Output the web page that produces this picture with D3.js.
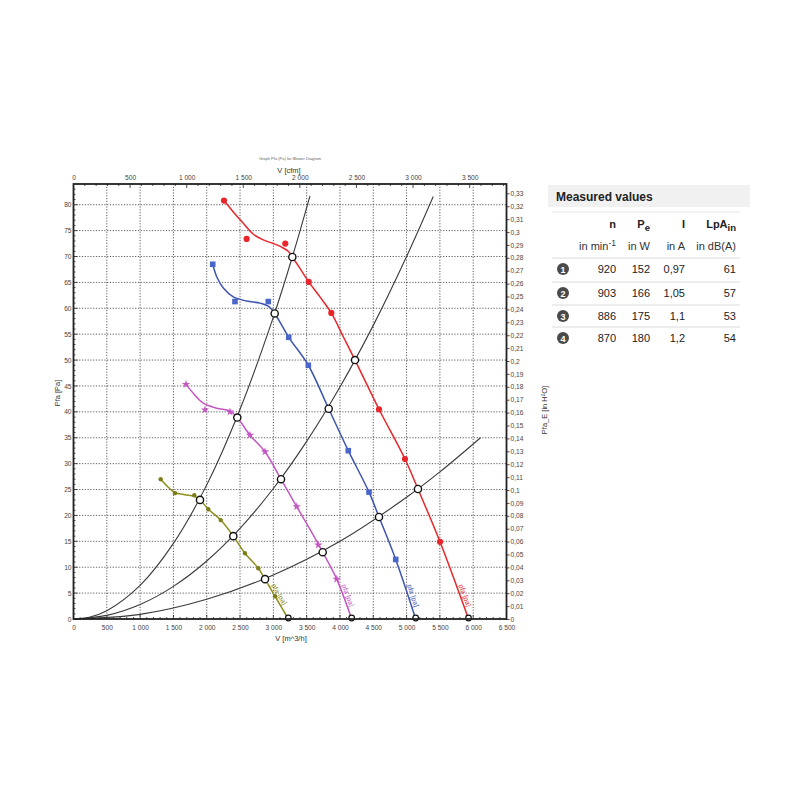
<!DOCTYPE html>
<html><head><meta charset="utf-8">
<script src="https://cdn.jsdelivr.net/npm/d3@7"></script>
<style>body{margin:0;background:#fff} svg{display:block} text{font-family:"Liberation Sans",Arial,sans-serif}</style>
</head><body><svg id="c" width="800" height="800"></svg>
<script>
// ---- data (V in m³/h, p in Pa) ----
const xTicks = [0,500,1000,1500,2000,2500,3000,3500,4000,4500,5000,5500,6000,6500];
const yTicks = [0,5,10,15,20,25,30,35,40,45,50,55,60,65,70,75,80];
const cfmTicks = [0,500,1000,1500,2000,2500,3000,3500];

const redCurve = [[2259,80.8],[2399,78.6],[2549,76.4],[2699,74.3],[2849,73.2],[2999,72.5],[3125,71.8],[3224,71.0],[3285,69.9],[3400,67.7],[3531,65.1],[3700,62.2],[3870,59.1],[4050,54.5],[4226,50.0],[4586,40.5],[4976,30.9],[5171,25.1],[5502,14.9],[5930,0]];
const redMarkers = [[2259,80.8],[2599,73.4],[3179,72.5],[3531,65.1],[3870,59.1],[4586,40.5],[4976,30.9],[5502,14.9]];
const redOps = [[3285,69.9],[4226,50.0],[5171,25.1]];

const blueCurve = [[2090,68.5],[2150,66.1],[2249,63.9],[2399,62.2],[2600,61.4],[2800,61.0],[2924,60.4],[3020,59.0],[3231,54.4],[3525,49.0],[3831,40.6],[4125,32.5],[4436,24.5],[4586,19.7],[4837,11.5],[5137,0]];
const blueMarkers = [[2090,68.5],[2424,61.3],[2924,61.3],[3231,54.4],[3525,49.0],[4125,32.5],[4436,24.5],[4837,11.5]];
const blueOps = [[3020,59.0],[3831,40.6],[4586,19.7]];

const magentaCurve = [[1689,45.3],[1798,43.6],[1948,41.7],[2150,40.7],[2349,40.2],[2459,38.9],[2649,35.5],[2875,32.3],[3115,27.0],[3351,21.7],[3600,16.2],[3741,12.9],[3951,7.7],[4176,0]];
const magentaMarkers = [[1689,45.3],[1974,40.4],[2349,40.0],[2649,35.5],[2875,32.3],[3351,21.7],[3675,14.3],[3951,7.7]];
const magentaOps = [[2459,38.9],[3115,27.0],[3741,12.9]];

const oliveCurve = [[1309,27.0],[1419,25.5],[1524,24.4],[1674,24.0],[1813,23.7],[1899,23.0],[2024,21.2],[2210,19.1],[2399,16.0],[2574,12.7],[2774,9.8],[2875,7.7],[3025,4.4],[3225,0]];
const oliveMarkers = [[1309,27.0],[1524,24.3],[1813,23.9],[2024,21.2],[2210,19.1],[2574,12.7],[2774,9.8],[3025,4.4]];
const oliveOps = [[1899,23.0],[2399,16.0],[2875,7.7]];

const system1 = [[0,0],[250,0.4],[500,1.6],[1000,6.5],[1500,14.6],[2000,25.9],[2500,40.5],[3000,58.3],[3285,69.9],[3550,81.7]];
const system2 = [[0,0],[500,0.7],[1000,2.8],[1500,6.3],[2000,11.2],[2500,17.5],[3000,25.2],[3500,34.3],[4000,44.8],[4500,56.7],[5000,70.0],[5400,81.6]];
const system3 = [[0,0],[1000,0.9],[2000,3.8],[3000,8.5],[4000,15.0],[5000,23.5],[5500,28.4],[6110,35.0]];

const tableN = ["920","903","886","870"];
const tablePe = ["152","166","175","180"];
const tableI = ["0,97","1,05","1,1","1,2"];
const tableLpA = ["61","57","53","54"];

// ---- scales ----
const svg = d3.select("#c");
const x = d3.scaleLinear().domain([0,6500]).range([73.5,506.5]);
const y = d3.scaleLinear().domain([0,84]).range([619,184]);
const xc = d3.scaleLinear().domain([0,6500/1.699]).range([73.5,506.5]);
const yr = d3.scaleLinear().domain([0,84/249.089]).range([619,184]);
const sp = v => d3.format(",")(v).replace(/,/g," ");
const comma = v => d3.format(".2~f")(v).replace(".",",");

// grid
const g = svg.append("g");
g.selectAll(".vg").data(xTicks.slice(1,-1)).join("line")
  .attr("x1",d=>x(d)).attr("x2",d=>x(d)).attr("y1",y(84)).attr("y2",y(0))
  .attr("stroke","#333").attr("stroke-width",0.8).attr("stroke-dasharray","1.2,1.6");
g.selectAll(".hg").data(yTicks.slice(1)).join("line")
  .attr("x1",x(0)).attr("x2",x(6500)).attr("y1",d=>y(d)).attr("y2",d=>y(d))
  .attr("stroke","#333").attr("stroke-width",0.8).attr("stroke-dasharray","1.2,1.6");

// minor ticks
const minorL = d3.range(0,84,1);
g.selectAll(".ml").data(minorL).join("line")
  .attr("x1",x(0)).attr("x2",d=>x(0)+(d%5===0?4:2)).attr("y1",d=>y(d)).attr("y2",d=>y(d))
  .attr("stroke","#222").attr("stroke-width",0.8);
const minorB = d3.range(0,6500,100);
g.selectAll(".mb").data(minorB).join("line")
  .attr("x1",d=>x(d)).attr("x2",d=>x(d)).attr("y1",y(0)).attr("y2",d=>y(0)-(d%500===0?4:2))
  .attr("stroke","#222").attr("stroke-width",0.8);
const minorT = d3.range(0,3826,100);
g.selectAll(".mt").data(minorT).join("line")
  .attr("x1",d=>xc(d)).attr("x2",d=>xc(d)).attr("y1",y(84)).attr("y2",d=>y(84)+(d%500===0?4:2))
  .attr("stroke","#222").attr("stroke-width",0.8);

const line = d3.line().x(d=>x(d[0])).y(d=>y(d[1])).curve(d3.curveCatmullRom.alpha(0.5));

// system curves
[system1,system2,system3].forEach(s=>{
  svg.append("path").attr("d",line(s)).attr("fill","none").attr("stroke","#3a3a3a").attr("stroke-width",1.1);
});

// fan curves
const series = [
  {c:redCurve,m:redMarkers,o:redOps,col:"#e8262b",mcol:"#e8262b",sym:"circle"},
  {c:blueCurve,m:blueMarkers,o:blueOps,col:"#3d55b0",mcol:"#4a66c8",sym:"square"},
  {c:magentaCurve,m:magentaMarkers,o:magentaOps,col:"#c457c2",mcol:"#c457c2",sym:"star"},
  {c:oliveCurve,m:oliveMarkers,o:oliveOps,col:"#8e8e1e",mcol:"#7d7d1a",sym:"dot"}
];
series.forEach(s=>{
  svg.append("path").attr("d",line(s.c)).attr("fill","none").attr("stroke",s.col).attr("stroke-width",1.5);
  const mk = svg.append("g");
  s.m.forEach(p=>{
    const px=x(p[0]), py=y(p[1]);
    if(s.sym==="circle") mk.append("circle").attr("cx",px).attr("cy",py).attr("r",3.1).attr("fill",s.mcol);
    else if(s.sym==="square") mk.append("rect").attr("x",px-2.8).attr("y",py-2.8).attr("width",5.6).attr("height",5.6).attr("fill",s.mcol);
    else if(s.sym==="star") mk.append("path").attr("transform",`translate(${px},${py})`).attr("d",d3.symbol(d3.symbolStar,22)()).attr("fill",s.mcol);
    else mk.append("circle").attr("cx",px).attr("cy",py).attr("r",2.2).attr("fill",s.mcol);
  });
  // curve end label
  const n=s.c.length, last=s.c[n-1], prev=s.c[n-2];
  const t = 6.5/prev[1];
  const lv = last[0]+(prev[0]-last[0])*t, lp = 6.5;
  const ang = Math.atan2(y(last[1])-y(prev[1]), x(last[0])-x(prev[0]))*180/Math.PI;
  svg.append("text").attr("transform",`translate(${x(lv)+2.5},${y(lp)}) rotate(${ang})`)
    .attr("font-size",7).attr("fill",s.col).text("pfa [pa]");
  // zero marker
  svg.append("circle").attr("cx",x(last[0])).attr("cy",y(0)-1).attr("r",2.8)
    .attr("fill","#fff").attr("stroke","#111").attr("stroke-width",1.2);
});
// operating points
series.forEach(s=>{
  s.o.forEach(p=>{
    svg.append("circle").attr("cx",x(p[0])).attr("cy",y(p[1])).attr("r",3.6)
      .attr("fill","#fff").attr("stroke","#111").attr("stroke-width",1.4);
  });
});

// frame
svg.append("rect").attr("x",x(0)).attr("y",y(84)).attr("width",x(6500)-x(0)).attr("height",y(0)-y(84))
  .attr("fill","none").attr("stroke","#222").attr("stroke-width",1.8);

// axes labels
const axStyle = sel => { sel.select(".domain").remove(); sel.selectAll("text").attr("font-size",6.6).attr("fill","#444").attr("font-family","'Liberation Sans',Arial,sans-serif"); };
svg.append("g").attr("transform",`translate(0,${y(0)})`)
  .call(d3.axisBottom(x).tickValues(xTicks).tickSize(0).tickPadding(6).tickFormat(sp)).call(axStyle);
svg.append("g").attr("transform",`translate(0,${y(84)})`)
  .call(d3.axisTop(xc).tickValues(cfmTicks).tickSize(0).tickPadding(4).tickFormat(sp)).call(axStyle);
svg.append("g").attr("transform",`translate(${x(0)},0)`)
  .call(d3.axisLeft(y).tickValues(yTicks).tickSize(0).tickPadding(2)).call(axStyle);
const rTicks = d3.range(0,34).map(i=>i/100);
svg.append("g").attr("transform",`translate(${x(6500)},0)`)
  .call(d3.axisRight(yr).tickValues(rTicks).tickSize(3).tickPadding(1).tickFormat(comma)).call(axStyle)
  .selectAll("line").attr("stroke","#222").attr("stroke-width",0.8);

// titles
svg.append("text").attr("x",290).attr("y",160).attr("text-anchor","middle").attr("font-size",4).attr("fill","#666").text("Graph Pfa (Pa) for Blower Diagram");
svg.append("text").attr("x",289).attr("y",173).attr("text-anchor","middle").attr("font-size",7.5).attr("fill","#333").text("V [cfm]");
svg.append("text").attr("x",291).attr("y",641).attr("text-anchor","middle").attr("font-size",7.5).attr("fill","#333").text("V [m^3/h]");
svg.append("text").attr("transform","translate(60,393) rotate(-90)").attr("text-anchor","middle").attr("font-size",7.5).attr("fill","#333").text("Pfa [Pa]");
svg.append("text").attr("transform","translate(547,410) rotate(-90)").attr("text-anchor","middle").attr("font-size",7.5).attr("fill","#333").text("Pfa_E [in H²O]");

// ---- table ----
const tb = svg.append("g");
tb.append("rect").attr("x",548).attr("y",185).attr("width",202).attr("height",22).attr("fill","#f1f1f1");
tb.append("text").attr("x",556).attr("y",201).attr("font-size",12).attr("font-weight","bold").attr("fill","#222").text("Measured values");
tb.append("line").attr("x1",552).attr("x2",740).attr("y1",212).attr("y2",212).attr("stroke","#e6e6e6");
const colX = [616,650,685,736];
const hdr = tb.append("g").attr("font-size",11).attr("font-weight","bold").attr("fill","#222").attr("text-anchor","end");
hdr.append("text").attr("x",colX[0]).attr("y",228).text("n");
const pe = hdr.append("text").attr("x",colX[1]).attr("y",228); pe.append("tspan").text("P"); pe.append("tspan").attr("dy",3).attr("font-size",9.5).text("e");
hdr.append("text").attr("x",colX[2]).attr("y",228).text("I");
const lp = hdr.append("text").attr("x",colX[3]).attr("y",228); lp.append("tspan").text("LpA"); lp.append("tspan").attr("dy",3).attr("font-size",9.5).text("in");
const un = tb.append("g").attr("font-size",11).attr("fill","#333").attr("text-anchor","end");
const mn = un.append("text").attr("x",colX[0]).attr("y",250); mn.append("tspan").text("in min"); mn.append("tspan").attr("dy",-4).attr("font-size",8.5).text("-1");
un.append("text").attr("x",colX[1]).attr("y",250).text("in W");
un.append("text").attr("x",colX[2]).attr("y",250).text("in A");
un.append("text").attr("x",colX[3]).attr("y",250).text("in dB(A)");
const rowY = [273,297,320,342];
const lineY = [258,282,305,327];
lineY.forEach(ly=>tb.append("line").attr("x1",552).attr("x2",740).attr("y1",ly).attr("y2",ly).attr("stroke","#dcdcdc"));
tableN.forEach((v,i)=>{
  const ry=rowY[i];
  tb.append("circle").attr("cx",563).attr("cy",ry-4).attr("r",6).attr("fill","#4a4a4a");
  tb.append("text").attr("x",563).attr("y",ry-0.5).attr("text-anchor","middle").attr("font-size",9).attr("font-weight","bold").attr("fill","#fff").text(i+1);
  [tableN[i],tablePe[i],tableI[i],tableLpA[i]].forEach((t,j)=>{
    tb.append("text").attr("x",colX[j]).attr("y",ry).attr("text-anchor","end").attr("font-size",11).attr("fill","#222").text(t);
  });
});
</script></body></html>
